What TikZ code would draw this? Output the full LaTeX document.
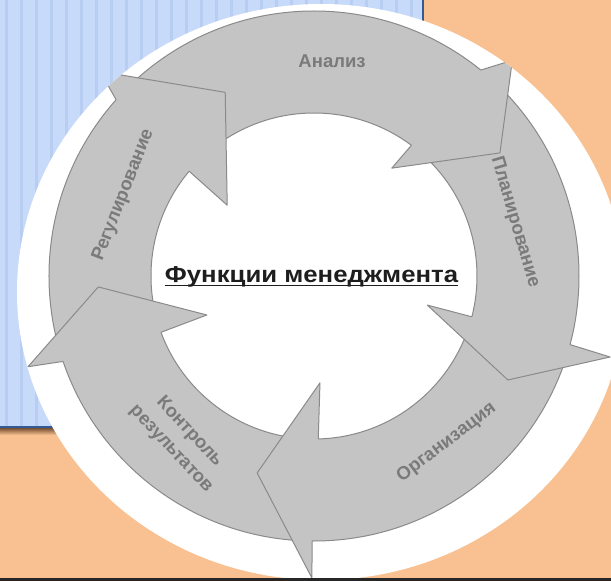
\documentclass[tikz,border=0pt]{standalone}
\usepackage{fontspec}
\setmainfont{Liberation Sans}
\definecolor{peach}{RGB}{249,193,145}
\definecolor{panelblue}{RGB}{199,218,249}
\definecolor{stripeblue}{RGB}{184,205,242}
\definecolor{edgeblue}{RGB}{52,90,150}
\definecolor{shadowbrown}{RGB}{120,80,50}
\definecolor{arrowgray}{RGB}{196,196,196}
\definecolor{edgegray}{RGB}{138,138,138}
\definecolor{labelgray}{RGB}{122,122,122}
\definecolor{titleblack}{RGB}{30,30,30}

\begin{document}
\begin{tikzpicture}[x=1pt,y=1pt]
		\tikzstyle{HeadFill}=[fill=arrowgray]
		\tikzstyle{EdgeStyle}=[draw=edgegray,line width=1pt,line join=round]
		\tikzstyle{LabelStyle}=[text=labelgray,font=\fontsize{18.5}{25}\selectfont\bfseries,align=center,inner sep=0pt]
		\useasboundingbox (-314,-305) rectangle (297,276);
		% background and blue panel
		\fill[peach] (-314,-305) rectangle (297,276);
		\fill[panelblue] (-314,-151) rectangle (109,276);
		\foreach \x in {-309,-294,...,104}
			\fill[stripeblue] (\x,-151) rectangle ++(3,427);
		\shade[top color=shadowbrown,bottom color=peach] (-314,-152) rectangle (111,-159);
		\draw[edgeblue,line width=2pt] (-314,-151) -- (109,-151) -- (109,276);
		% white oval
		\fill[white] (7,-16) ellipse (304pt and 288pt);
		\begin{scope}
			\clip (7,-16) ellipse (304pt and 288pt);
			% ring
			\fill[arrowgray,even odd rule] (0,0) circle (265pt) (0,0) circle (163pt);
			\draw[EdgeStyle] (0,0) circle (265pt);
			\draw[EdgeStyle] (0,0) circle (163pt);
			% heads: Анализ
			\fill[HeadFill] (51:265) -- (47.4:293) -- (33.5:223) -- (54.2:133) -- (53.3:163) -- cycle;
			\draw[EdgeStyle] (51:265) -- (47.4:293) -- (33.5:223) -- (54.2:133) -- (53.3:163);
			% Планирование
			\fill[HeadFill] (345:265) -- (344.7:307) -- (331.8:220) -- (345.6:117) -- (345.5:163) -- cycle;
			\draw[EdgeStyle] (345:265) -- (344.7:307) -- (331.8:220) -- (345.6:117) -- (345.5:163);
			% Организация
			\fill[HeadFill] (269.6:265) -- (269.6:302) -- (253.9:205) -- (273.2:107) -- (271.5:163) -- cycle;
			\draw[EdgeStyle] (269.6:265) -- (269.6:302) -- (253.9:205) -- (273.2:107) -- (271.5:163);
			% Контроль
			\fill[HeadFill] (198.8:265) -- (197.6:300) -- (182.9:216) -- (200:114) -- (200.2:163) -- cycle;
			\draw[EdgeStyle] (198.8:265) -- (197.6:300) -- (182.9:216) -- (200:114) -- (200.2:163);
			% Регулирование
			\fill[HeadFill] (138.3:265) -- (136.3:296) -- (115.8:204) -- (140.8:112) -- (140:163) -- cycle;
			\draw[EdgeStyle] (138.3:265) -- (136.3:296) -- (115.8:204) -- (140.8:112) -- (140:163);
		\end{scope}
		% labels
		\node[LabelStyle] (analiz) at (85.2:216) {Анализ};
		\node[LabelStyle,rotate=-73.5] (plan) at (15:208) {Планирование};
		\node[LabelStyle,rotate=37] (org) at (-51.5:213) {Организация};
		\node[LabelStyle,rotate=-47] (kontrol) at (230.9:212) {Контроль\\результатов};
		\node[LabelStyle,rotate=68.6] (regul) at (157:207) {Регулирование};
		\node[text=titleblack,font=\fontsize{23}{26}\selectfont\bfseries,inner sep=0pt,anchor=base] (title) at (-2.5,-6) {\scalebox{1.12}[1]{Функции менеджмента}};
		\draw[titleblack,line width=1.8pt] ([yshift=-3.5pt]title.base west) -- ([yshift=-3.5pt]title.base east);
		% bottom edge
		\fill[black!85] (-314,-302) rectangle (297,-305);
	\end{tikzpicture}
\end{document}
